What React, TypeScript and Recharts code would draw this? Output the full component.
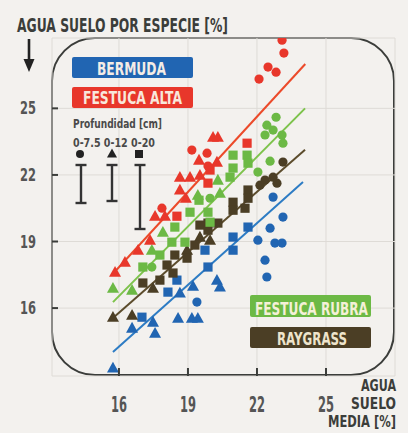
import React from "react";
import { ScatterChart, Scatter, XAxis, YAxis, CartesianGrid, ReferenceLine } from "recharts";

const FONT = '"DejaVu Sans Condensed", "Liberation Sans Narrow", "DejaVu Sans", sans-serif';
const BG = "#f3f1ee";
const INK = "#3b3d3a";

const BLUE = "#2165b2";
const RED = "#e8372b";
const GREEN = "#6cb945";
const BROWN = "#4b3e25";

const X_TICKS = [16, 19, 22, 25];
const Y_TICKS = [16, 19, 22, 25];

// festuca alta (red)
const altaCircle = [[23.09, 28.07], [23.17, 27.49], [22.48, 26.86], [22.83, 26.63], [22.09, 26.32], [19.17, 23.12], [19.83, 22.98], [19.87, 22.4], [17.87, 20.5]];
const altaTriangle = [[20.09, 23.7], [20.3, 23.7], [19.48, 22.67], [20.26, 22.58], [18.65, 21.9], [19.09, 21.9], [19.52, 21.99], [18.65, 21.32], [18.91, 20.95], [17.57, 20.14], [18.0, 20.14], [17.35, 19.06], [16.83, 18.61], [16.26, 18.07], [15.83, 17.62]];
const altaSquare = [[21.57, 23.43], [19.96, 22.22], [19.87, 21.63], [18.52, 20.14]];

// festuca rubra (green)
const rubraCircle = [[22.83, 24.6], [22.43, 24.24], [22.7, 24.02], [23.09, 23.8], [22.35, 23.8], [23.13, 23.43], [22.57, 22.62], [22.04, 22.13], [19.96, 20.95], [17.43, 17.85]];
const rubraTriangle = [[20.3, 21.77], [20.39, 21.18], [19.43, 21.09], [17.91, 19.42], [17.43, 18.61], [15.74, 16.9], [16.57, 16.81]];
const rubraSquare = [[20.96, 22.89], [21.57, 22.89], [20.96, 22.31], [21.61, 22.53], [20.83, 21.9], [19.48, 20.86], [19.09, 20.32], [19.87, 20.32], [19.96, 19.87], [18.43, 19.65], [18.87, 18.97], [18.3, 18.97], [17.04, 17.85], [17.78, 18.39]];

// raygrass (brown)
const rayCircle = [[23.13, 22.58], [22.7, 21.9], [22.35, 21.77], [22.87, 21.63], [22.13, 21.54]];
const rayTriangle = [[19.52, 19.2], [19.96, 19.06], [18.96, 18.61], [17.48, 16.9], [16.57, 15.68], [15.74, 15.59]];
const raySquare = [[21.61, 21.32], [21.61, 20.95], [20.96, 20.77], [20.96, 20.41], [21.48, 20.5], [20.3, 19.83], [19.87, 19.83], [19.52, 19.74], [19.87, 19.51], [19.3, 18.84], [18.96, 18.25], [18.43, 18.39], [18.09, 17.94], [18.35, 17.58], [17.78, 17.26], [17.04, 17.13]];

// bermuda (blue)
const bermCircle = [[22.7, 21.0], [23.13, 20.1], [22.57, 19.6], [22.04, 19.06], [22.78, 18.93], [23.09, 18.93], [22.35, 18.16], [22.43, 17.4], [19.39, 16.27]];
const bermTriangle = [[20.26, 17.26], [20.39, 16.95], [19.22, 16.99], [18.65, 16.68], [18.57, 15.55], [19.17, 15.55], [19.43, 15.55], [17.48, 15.37], [16.57, 15.1], [17.57, 14.87], [15.74, 13.3]];
const bermSquare = [[21.61, 19.65], [20.96, 19.2], [20.96, 18.61], [19.74, 18.61], [19.87, 17.85], [18.52, 17.26], [18.13, 16.72], [17.0, 15.59]];

// regression lines [x1, y1, x2, y2]
const altaFit = [15.7, 17.5, 24.1, 27.0];
const rubraFit = [15.74, 16.27, 24.09, 25.0];
const rayFit = [15.74, 15.55, 24.09, 23.13];
const bermFit = [15.74, 14.02, 24.0, 21.68];

const toPts = (a: number[][]) => a.map(([x, y]) => ({ x, y }));
const seg = (f: number[]) => [{ x: f[0], y: f[1] }, { x: f[2], y: f[3] }];

const dot = (c: string) => (p: any) => <circle cx={p.cx} cy={p.cy} r={4.6} fill={c} />;
const tri = (c: string) => (p: any) => (
  <path d={`M${p.cx},${p.cy - 6.2}L${p.cx + 6},${p.cy + 4.6}L${p.cx - 6},${p.cy + 4.6}Z`} fill={c} />
);
const sq = (c: string) => (p: any) => <rect x={p.cx - 4.6} y={p.cy - 4.6} width={9.2} height={9.2} fill={c} />;

const YTick = (p: any) => (
  <g>
    <line x1={p.x} x2={p.x + 6} y1={p.y} y2={p.y} stroke={INK} strokeWidth={2} />
    <text x={p.x - 32} y={p.y + 6} fontFamily={FONT} fontWeight="bold" fontSize={17} fill="#555" textLength={16} lengthAdjust="spacingAndGlyphs">
      {p.payload.value}
    </text>
  </g>
);

const XTick = (p: any) => (
  <g>
    <line x1={p.x} x2={p.x} y1={p.y - 8} y2={p.y} stroke={INK} strokeWidth={2} />
    <text x={p.x - 8} y={p.y + 36} fontFamily={FONT} fontWeight="bold" fontSize={22} fill="#555" textLength={16} lengthAdjust="spacingAndGlyphs">
      {p.payload.value}
    </text>
  </g>
);

const Label = ({ x, y, w, size, text, fill = INK }: any) => (
  <text x={x} y={y} fontFamily={FONT} fontWeight="bold" fontSize={size} fill={fill} textLength={w} lengthAdjust="spacingAndGlyphs">
    {text}
  </text>
);

const ErrBar = ({ x, y1, y2 }: any) => (
  <g stroke="#333" strokeWidth={2.4}>
    <line x1={x} x2={x} y1={y1} y2={y2} />
    <line x1={x - 5.5} x2={x + 5.5} y1={y1} y2={y1} />
    <line x1={x - 5.5} x2={x + 5.5} y1={y2} y2={y2} />
  </g>
);

export default function App() {
  const series = [
    { d: bermTriangle, s: tri(BLUE) }, { d: bermSquare, s: sq(BLUE) }, { d: bermCircle, s: dot(BLUE) },
    { d: rayTriangle, s: tri(BROWN) }, { d: raySquare, s: sq(BROWN) }, { d: rayCircle, s: dot(BROWN) },
    { d: rubraTriangle, s: tri(GREEN) }, { d: rubraSquare, s: sq(GREEN) }, { d: rubraCircle, s: dot(GREEN) },
    { d: altaTriangle, s: tri(RED) }, { d: altaSquare, s: sq(RED) }, { d: altaCircle, s: dot(RED) },
  ];
  return (
    <div style={{ position: "absolute", left: 0, top: 0, width: 408, height: 433, background: BG, overflow: "hidden" }}>
      <div style={{ position: "absolute", left: 51, top: 37, width: 340, height: 335, border: `2.5px solid ${INK}`, borderRadius: 44 }} />
      <div style={{ position: "absolute", left: 0, top: 0 }}>
        <ScatterChart width={408} height={433} margin={{ top: 38, right: 13, bottom: 0, left: 0 }}>
          <CartesianGrid stroke="#dedbd6" strokeWidth={1} />
          <XAxis type="number" dataKey="x" domain={[13.09, 28]} ticks={X_TICKS} height={57} tickSize={0} tickMargin={0} axisLine={false} tick={<XTick />} allowDataOverflow />
          <YAxis type="number" dataKey="y" domain={[12.94, 28.17]} ticks={Y_TICKS} width={52} tickSize={0} tickMargin={0} axisLine={false} tick={<YTick />} allowDataOverflow />
          {series.map((s, i) => (
            <Scatter key={i} data={toPts(s.d)} shape={s.s} isAnimationActive={false} />
          ))}
          <ReferenceLine segment={seg(bermFit)} stroke="#2d7cc4" strokeWidth={2} ifOverflow="visible" />
          <ReferenceLine segment={seg(rayFit)} stroke="#5c4c2c" strokeWidth={2} ifOverflow="visible" />
          <ReferenceLine segment={seg(rubraFit)} stroke="#7dc34b" strokeWidth={2} ifOverflow="visible" />
          <ReferenceLine segment={seg(altaFit)} stroke="#ec4a2a" strokeWidth={2} ifOverflow="visible" />
        </ScatterChart>
      </div>
      <svg width={408} height={433} style={{ position: "absolute", left: 0, top: 0, pointerEvents: "none" }}>
        <Label x={17} y={32} w={211} size={20} text="AGUA SUELO POR ESPECIE [%]" />
        <line x1={29} x2={29} y1={39} y2={62} stroke="#222" strokeWidth={2.6} />
        <path d="M23.5,59 L34.5,59 L29,72 Z" fill="#222" />

        <rect x={72} y={57} width={121} height={21} rx={2} fill={BLUE} />
        <Label x={97} y={75} w={69} size={17} text="BERMUDA" fill="#f4ece6" />
        <rect x={72} y={87} width={121} height={21} rx={2} fill={RED} />
        <Label x={83} y={104} w={99} size={17} text="FESTUCA ALTA" fill="#f8e8dc" />

        <Label x={73} y={128} w={89} size={13} text="Profundidad [cm]" fill="#4a4a4a" />
        <Label x={73} y={147} w={82} size={13} text="0-7.5 0-12 0-20" fill="#4a4a4a" />
        <circle cx={80} cy={154} r={4} fill="#222" />
        <path d="M112,148.5 L117,157.5 L107,157.5 Z" fill="#222" />
        <rect x={135} y={150} width={8} height={8} fill="#222" />
        <ErrBar x={81} y1={165} y2={203} />
        <ErrBar x={112} y1={165} y2={201} />
        <ErrBar x={140} y1={165} y2={229} />

        <rect x={250} y={295} width={121} height={22} rx={2} fill={GREEN} />
        <Label x={255} y={315} w={113} size={17} text="FESTUCA RUBRA" fill="#f4f0d8" />
        <rect x={250} y={327} width={121} height={21} rx={2} fill={BROWN} />
        <Label x={277} y={345} w={70} size={17} text="RAYGRASS" fill="#eee4cc" />

        <Label x={361} y={391} w={35} size={16} text="AGUA" />
        <Label x={351} y={409} w={45} size={16} text="SUELO" />
        <Label x={328} y={427} w={68} size={16} text="MEDIA [%]" />
      </svg>
    </div>
  );
}
